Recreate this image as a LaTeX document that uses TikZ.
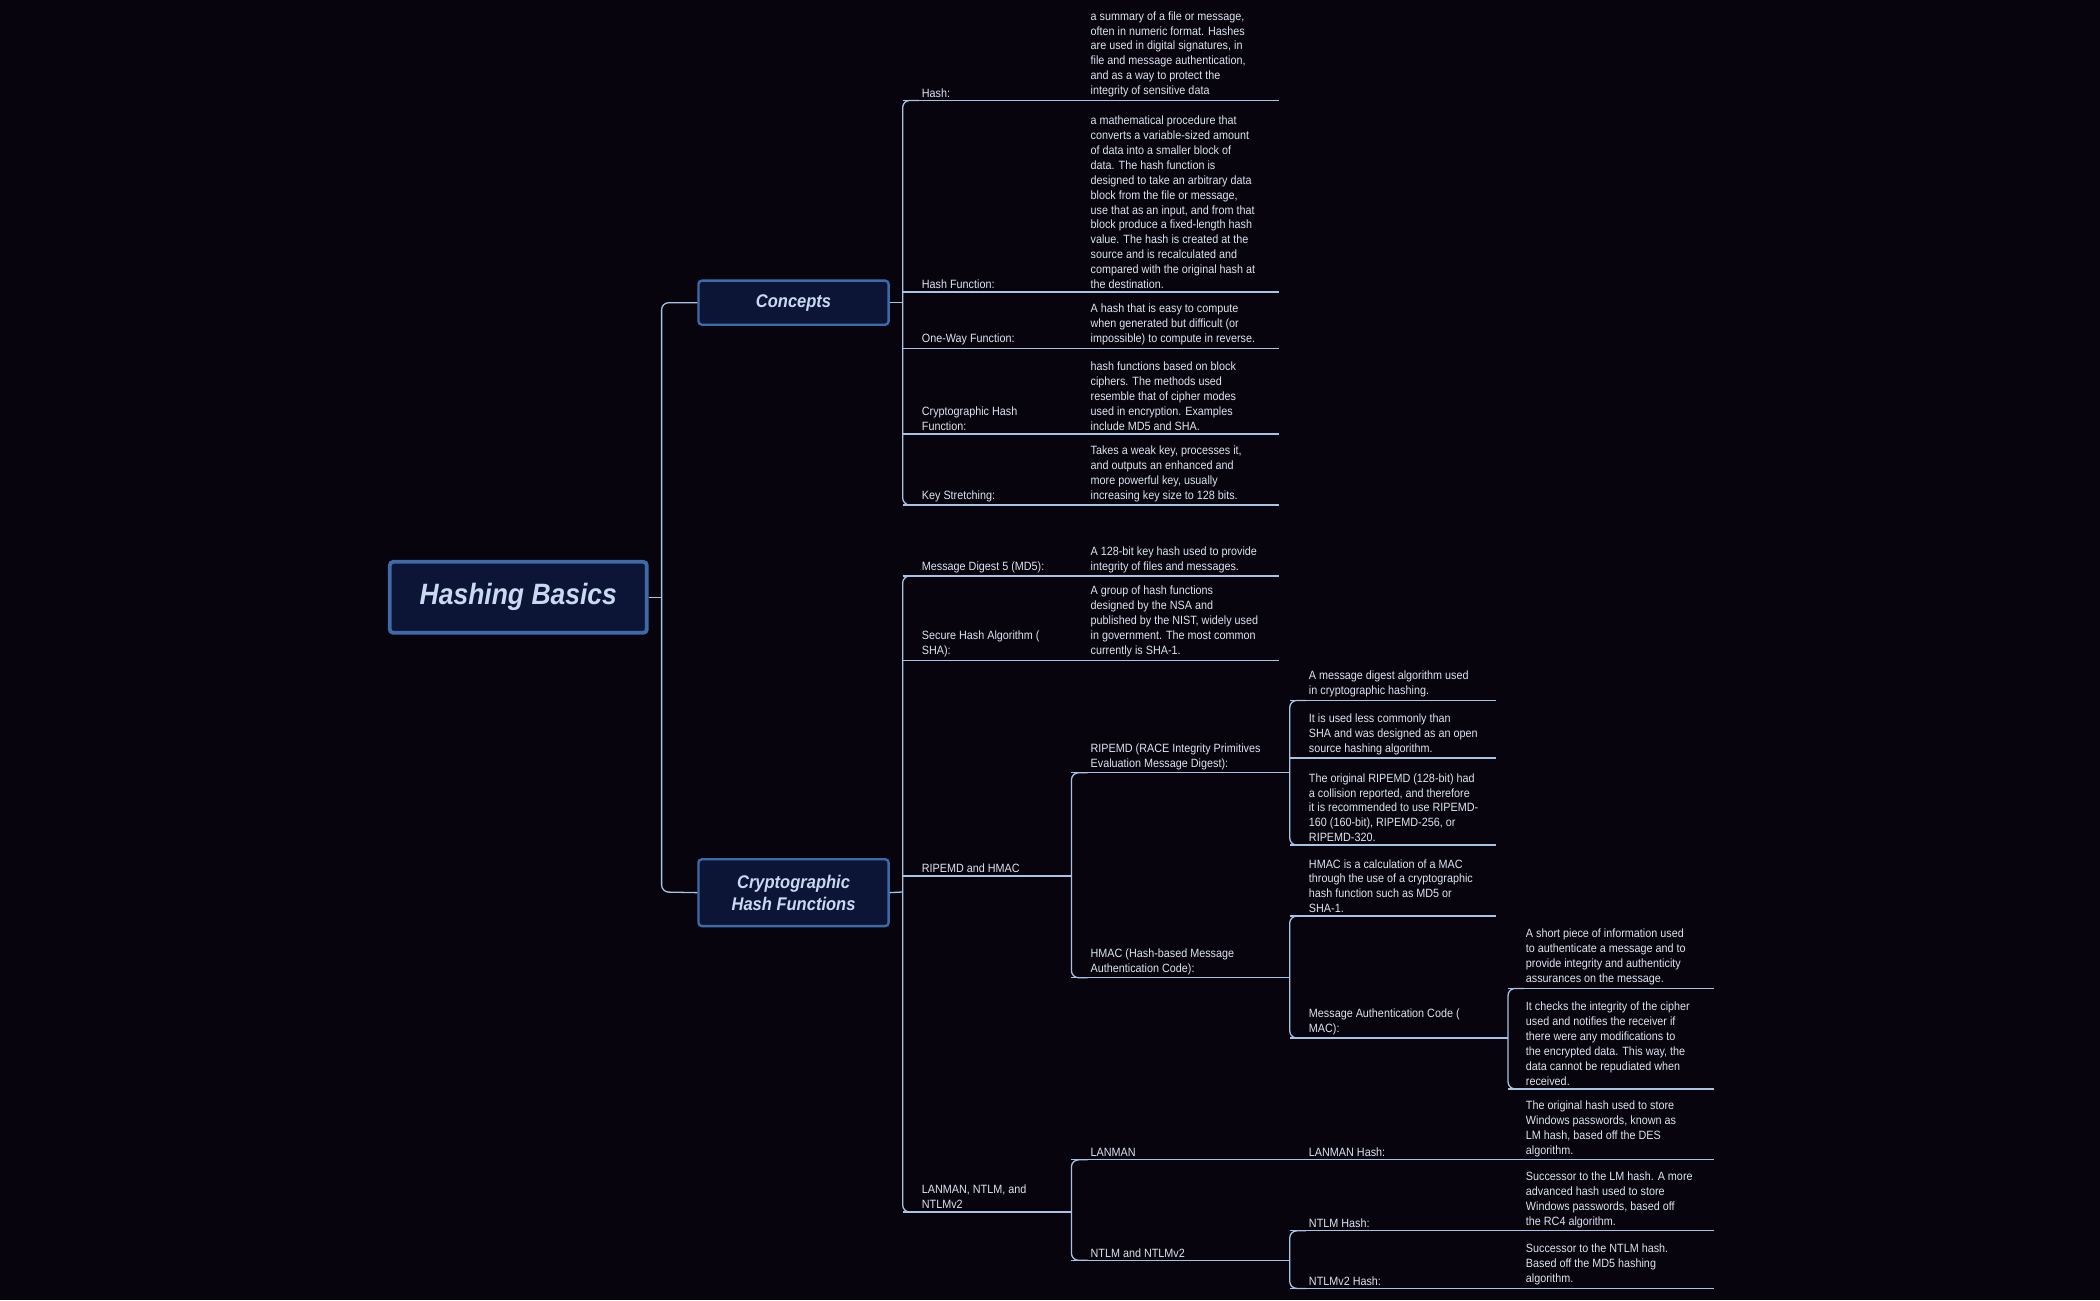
\documentclass[tikz,border=0pt]{standalone}
\usepackage{fontspec}
\setmainfont{Liberation Sans}[FakeStretch=0.9]
\definecolor{bg}{HTML}{07040D}
\definecolor{ln}{HTML}{A9C3E3}
\definecolor{tx}{HTML}{DCE4F2}
\definecolor{bfill}{HTML}{0D1536}
\definecolor{bdraw}{HTML}{3E6BA8}
\definecolor{btx}{HTML}{C9D9F2}
\begin{document}
\begin{tikzpicture}[x=0.02cm,y=-0.02cm,
  lbl/.style={anchor=south west,align=left,text=tx,inner sep=0pt,font=\fontsize{5.1}{6.35}\selectfont},
  wire/.style={draw=ln,line width=0.55pt},
  spine/.style={draw=ln,line width=0.55pt,rounded corners=3pt},
  topic/.style={draw=bdraw,fill=bfill,line width=1pt,rounded corners=1.5pt,text=btx,font=\bfseries\itshape,align=center,inner sep=0pt}]
\fill[bg] (0,0) rectangle (1568,971);
\useasboundingbox (0,0) rectangle (1568,971);
% topic boxes
\node[topic,minimum width=3.84cm,minimum height=1.06cm,line width=1.6pt,font=\fontsize{12.5}{14}\bfseries\itshape] (root) at (387,446) {Hashing Basics};
\node[topic,minimum width=2.84cm,minimum height=0.66cm,font=\fontsize{7.8}{9}\bfseries\itshape] (conc) at (592.5,226) {Concepts};
\node[topic,minimum width=2.84cm,minimum height=1.0cm,font=\fontsize{7.8}{9.4}\bfseries\itshape] (chf) at (592.5,666.5) {Cryptographic\\Hash Functions};
% spines
\coordinate (rs) at (494,446);
\draw[wire] (root.east) -- (rs);
\draw[spine] (conc.west) -- (494,226) -- (494,666) -- (chf.west);
\draw[wire] (conc.east) -- (674,226);
\draw[wire] (chf.east) -- (674,666);
\newcommand{\spn}[3]{\draw[spine] (#1+12,#2) -- (#1,#2) -- (#1,#3) -- (#1+12,#3);}
\spn{674}{75}{377}
\spn{674}{430}{905}
\spn{800}{577}{730}
\spn{963}{523}{631}
\spn{963}{684}{775}
\spn{1126}{738}{813}
\spn{800}{866}{941}
\spn{963}{919}{962}
% underlines
\newcommand{\undl}[4]{\draw[wire] (#1,#3) coordinate (#4a) -- (#2,#3) coordinate (#4b);}
\undl{674}{955}{75}{u1}
\undl{674}{955}{218}{u2}
\undl{674}{955}{260}{u3}
\undl{674}{955}{324}{u4}
\undl{674}{955}{377}{u5}
\undl{674}{955}{430}{u6}
\undl{674}{955}{493}{u7}
\undl{674}{800}{654}{u8}
\undl{800}{963}{577}{u9}
\undl{963}{1117}{523}{u10}
\undl{963}{1117}{566}{u11}
\undl{963}{1117}{631}{u12}
\undl{800}{963}{730}{u13}
\undl{963}{1117}{684}{u14}
\undl{963}{1126}{775}{u15}
\undl{1126}{1280}{738}{u16}
\undl{1126}{1280}{813}{u17}
\undl{674}{800}{905}{u18}
\undl{800}{1280}{866}{u19}
\undl{800}{963}{941}{u20}
\undl{963}{1280}{919}{u21}
\undl{963}{1280}{962}{u22}
% texts
\newcommand{\txt}[4]{\node[lbl] (#4) at (#1,#2-2) {#3};}
\txt{688}{75}{Hash:}{t1}
\txt{814}{75}{a summary of a file or message,\\often in numeric format. Hashes\\are used in digital signatures, in\\file and message authentication,\\and as a way to protect the\\integrity of sensitive data}{d1}
\txt{688}{218}{Hash Function:}{t2}
\txt{814}{218}{a mathematical procedure that\\converts a variable-sized amount\\of data into a smaller block of\\data. The hash function is\\designed to take an arbitrary data\\block from the file or message,\\use that as an input, and from that\\block produce a fixed-length hash\\value. The hash is created at the\\source and is recalculated and\\compared with the original hash at\\the destination.}{d2}
\txt{688}{260}{One-Way Function:}{t3}
\txt{814}{260}{A hash that is easy to compute\\when generated but difficult (or\\impossible) to compute in reverse.}{d3}
\txt{688}{324}{Cryptographic Hash\\Function:}{t4}
\txt{814}{324}{hash functions based on block\\ciphers. The methods used\\resemble that of cipher modes\\used in encryption. Examples\\include MD5 and SHA.}{d4}
\txt{688}{377}{Key Stretching:}{t5}
\txt{814}{377}{Takes a weak key, processes it,\\and outputs an enhanced and\\more powerful key, usually\\increasing key size to 128 bits.}{d5}
\txt{688}{430}{Message Digest 5 (MD5):}{t6}
\txt{814}{430}{A 128-bit key hash used to provide\\integrity of files and messages.}{d6}
\txt{688}{493}{Secure Hash Algorithm (\\SHA):}{t7}
\txt{814}{493}{A group of hash functions\\designed by the NSA and\\published by the NIST, widely used\\in government. The most common\\currently is SHA-1.}{d7}
\txt{688}{654}{RIPEMD and HMAC}{t8}
\txt{814}{577}{RIPEMD (RACE Integrity Primitives\\Evaluation Message Digest):}{t9}
\txt{977}{523}{A message digest algorithm used\\in cryptographic hashing.}{d10}
\txt{977}{566}{It is used less commonly than\\SHA and was designed as an open\\source hashing algorithm.}{d11}
\txt{977}{631}{The original RIPEMD (128-bit) had\\a collision reported, and therefore\\it is recommended to use RIPEMD-\\160 (160-bit), RIPEMD-256, or\\RIPEMD-320.}{d12}
\txt{814}{730}{HMAC (Hash-based Message\\Authentication Code):}{t13}
\txt{977}{684}{HMAC is a calculation of a MAC\\through the use of a cryptographic\\hash function such as MD5 or\\SHA-1.}{d14}
\txt{977}{775}{Message Authentication Code (\\MAC):}{t15}
\txt{1139}{738}{A short piece of information used\\to authenticate a message and to\\provide integrity and authenticity\\assurances on the message.}{d16}
\txt{1139}{813}{It checks the integrity of the cipher\\used and notifies the receiver if\\there were any modifications to\\the encrypted data. This way, the\\data cannot be repudiated when\\received.}{d17}
\txt{688}{905}{LANMAN, NTLM, and\\NTLMv2}{t18}
\txt{814}{866}{LANMAN}{t19}
\txt{977}{866}{LANMAN Hash:}{t19b}
\txt{1139}{866}{The original hash used to store\\Windows passwords, known as\\LM hash, based off the DES\\algorithm.}{d19}
\txt{814}{941}{NTLM and NTLMv2}{t20}
\txt{977}{919}{NTLM Hash:}{t21}
\txt{1139}{919}{Successor to the LM hash. A more\\advanced hash used to store\\Windows passwords, based off\\the RC4 algorithm.}{d21}
\txt{977}{962}{NTLMv2 Hash:}{t22}
\txt{1139}{962}{Successor to the NTLM hash.\\Based off the MD5 hashing\\algorithm.}{d22}
\end{tikzpicture}
\end{document}
